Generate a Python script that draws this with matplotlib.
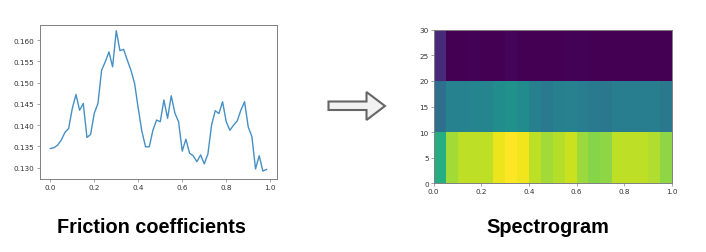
import matplotlib
matplotlib.use('Agg')
import matplotlib.pyplot as plt
import numpy as np
from matplotlib.patches import Polygon

friction = [0.1345, 0.1347, 0.1353, 0.1365, 0.1383, 0.1392, 0.1439, 0.1472, 0.1435, 0.1451,
            0.1371, 0.1378, 0.1428, 0.1451, 0.1529, 0.1549, 0.1572, 0.1537, 0.1622, 0.1575,
            0.1578, 0.1553, 0.1529, 0.1498, 0.1439, 0.1385, 0.1349, 0.1349, 0.1388, 0.1412,
            0.1408, 0.1459, 0.1416, 0.1469, 0.1428, 0.1408, 0.1339, 0.1367, 0.1334, 0.1328,
            0.1314, 0.1330, 0.1309, 0.1332, 0.1400, 0.1434, 0.1427, 0.1455, 0.1408, 0.1388,
            0.1400, 0.1410, 0.1435, 0.1455, 0.1396, 0.1373, 0.1297, 0.1328, 0.1292, 0.1296]
time = np.arange(len(friction)) / 60

t_edges = np.arange(21) * 0.05
f_edges = [0, 10, 20, 30]
low_band = [0.62, 0.86, 0.90, 0.90, 0.90, 0.97, 1.00, 0.98, 0.90, 0.86,
            0.89, 0.92, 0.85, 0.82, 0.83, 0.90, 0.90, 0.90, 0.88, 0.83]
mid_band = [0.36, 0.44, 0.44, 0.45, 0.45, 0.49, 0.50, 0.48, 0.43, 0.41,
            0.43, 0.44, 0.42, 0.41, 0.40, 0.42, 0.42, 0.42, 0.42, 0.40]
top_band = [0.12, 0.00, 0.00, 0.005, 0.00, 0.00, 0.01, 0.00, 0.00, 0.00,
            0.00, 0.005, 0.005, 0.00, 0.00, 0.00, 0.00, 0.00, 0.00, 0.00]

left_title = 'Friction coefficients'
right_title = 'Spectrogram'
gray = '#808080'
text_gray = '#333333'

fig = plt.figure(figsize=(7.06, 2.53), dpi=100)
W, H = 706, 253


def make_axes(x0, x1, y0, y1):
    ax = fig.add_axes([x0 / W, 1 - y1 / H, (x1 - x0) / W, (y1 - y0) / H])
    ax.tick_params(labelsize=5.2, length=2, width=0.5, pad=1.5, color=gray, labelcolor=text_gray)
    for s in ax.spines.values():
        s.set_linewidth(0.7)
        s.set_color(gray)
    return ax


ax = make_axes(39.5, 277, 26, 180)
ax.plot(time, friction, color='#4590c4', lw=1.0)
ax.set_xlim(-0.0491, 1.0309)
ax.set_ylim(0.12734, 0.16353)
ax.set_xticks([0, 0.2, 0.4, 0.6, 0.8, 1.0])
ax.set_yticks([0.130, 0.135, 0.140, 0.145, 0.150, 0.155, 0.160])
ax.set_yticklabels(['%.3f' % v for v in ax.get_yticks()])

ax2 = make_axes(433.7, 671.7, 30.7, 184.3)
ax2.pcolormesh(t_edges, f_edges, np.array([low_band, mid_band, top_band]),
               cmap='viridis', vmin=0, vmax=1)
ax2.set_xlim(0, 1)
ax2.set_ylim(0, 30)
ax2.set_xticks([0, 0.2, 0.4, 0.6, 0.8, 1.0])
ax2.set_yticks([0, 5, 10, 15, 20, 25, 30])

# block arrow between the two panels
pts = [(328.5, 102.5), (366.5, 102.5), (366.5, 93), (385, 107), (366.5, 121), (366.5, 111), (328.5, 111)]
arrow = Polygon([(x / W, 1 - y / H) for x, y in pts], closed=True, transform=fig.transFigure,
                facecolor='#f2f2f2', edgecolor='#666666', lw=1.5)
fig.add_artist(arrow)

fig.text(151.5 / W, 1 - 228 / H, left_title, family='Liberation Sans', weight='bold',
         fontsize=14.3, ha='center', va='center', color='black')
fig.text(548 / W, 1 - 228 / H, right_title, family='Liberation Sans', weight='bold',
         fontsize=14.3, ha='center', va='center', color='black')

fig.savefig('out.png', dpi=100)
